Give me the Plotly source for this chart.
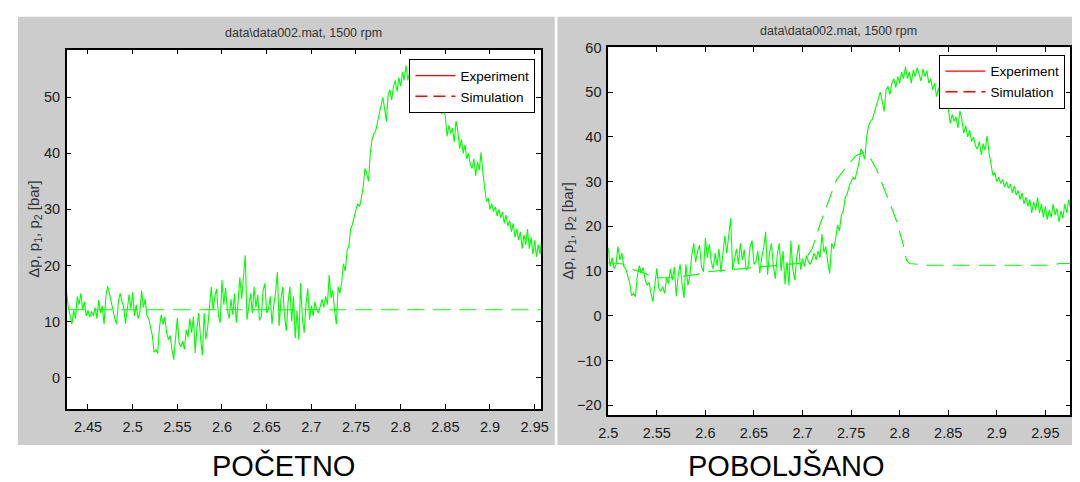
import numpy as np
import plotly.graph_objects as go

# ---------------- data ----------------
# Experiment: pressure samples, one every 0.002 s starting at t = 2.426 s
exp_t0 = 2.426
exp_dt = 0.002
exp_p = [
    # 2.426 - 2.520
    15.2, 12.5, 11.0, 9.5, 12.0, 10.5, 14.5, 13.0, 15.0, 12.2,
    13.5, 11.0, 12.0, 10.8, 11.8, 11.0, 12.5, 10.5, 13.8, 11.5,
    12.8, 9.5, 14.5, 16.3, 15.0, 13.2, 12.0, 10.5, 9.5, 13.5,
    15.0, 13.6, 12.5, 9.6, 12.0, 14.8, 12.3, 15.2, 11.0, 13.0,
    10.5, 11.5, 15.5, 12.5, 14.0, 11.0, 10.5, 9.0,
    # 2.522 - 2.582
    7.5, 4.5, 5.0, 4.3, 9.0, 11.2, 9.5, 10.8, 8.0, 6.8,
    7.5, 5.0, 3.2, 7.0, 10.6, 6.2, 5.5, 6.5, 5.0, 8.5,
    7.2, 10.5, 8.0, 10.9, 4.4, 9.0, 11.5, 7.0, 4.0, 11.5,
    6.8,
    # 2.584 - 2.730
    9.0, 13.5, 16.2, 12.0, 14.5, 15.8, 11.0, 9.8, 17.4, 13.0,
    16.0, 12.1, 10.5, 14.0, 11.2, 15.0, 9.8, 13.5, 17.9, 14.0,
    18.5, 21.8, 10.3, 13.0, 15.0, 11.5, 16.2, 12.5, 14.8, 10.2,
    10.9, 15.5, 16.8, 11.5, 12.1, 14.5, 9.5, 13.0, 15.2, 18.8,
    9.2, 14.0, 16.2, 11.0, 8.3, 13.5, 16.2, 10.0, 14.5, 7.0,
    12.0, 6.8, 16.8, 10.5, 8.0, 13.0, 15.9, 10.3, 12.8, 11.0,
    13.5, 12.1, 11.5, 12.7, 14.0, 12.5, 14.5, 13.0, 18.3, 14.2,
    15.5, 12.0, 9.5, 16.2,
    # 2.732 - 2.806
    15.0, 17.0, 20.3, 19.0, 22.6, 23.5, 26.5, 27.3, 29.0, 30.0,
    31.0, 30.5, 32.0, 34.0, 37.3, 36.5, 35.0, 40.0, 42.5, 43.5,
    44.0, 45.5, 47.0, 48.5, 50.0, 48.0, 45.7, 50.5, 51.3, 49.5,
    52.0, 53.0, 51.0, 53.5, 52.0, 54.5, 53.0, 55.7,
    # 2.808 - 2.850
    53.0, 54.5, 52.0, 55.0, 53.5, 55.5, 54.0, 52.5, 55.2, 53.5,
    54.8, 52.0, 53.0, 50.5, 52.0, 49.0, 51.0, 48.0, 49.5, 47.0,
    48.0, 46.6,
    # 2.852 - 2.976
    43.0, 45.0, 43.5, 44.5, 42.0, 45.8, 44.0, 40.8, 42.5, 40.0,
    41.5, 39.0, 40.0, 38.0, 37.3, 39.0, 36.0, 38.5, 37.0, 40.2,
    36.5, 33.7, 31.4, 32.0, 30.0, 31.0, 29.6, 30.5, 28.8, 30.0,
    28.5, 29.5, 27.5, 29.0, 27.0, 28.0, 26.0, 27.5, 25.0, 26.5,
    24.5, 26.0, 23.0, 25.5, 23.7, 26.5, 23.0, 25.0, 22.0, 24.5,
    21.5, 23.7, 22.0, 25.0, 22.5, 24.0, 21.0, 23.5, 21.8, 25.0,
    23.0, 26.0, 24.0,
]
exp_t = [round(exp_t0 + exp_dt * i, 4) for i in range(len(exp_p))]

# Simulation, initial model (left panel)
sim_initial_t = [2.40, 2.98]
sim_initial_p = [12.1, 12.1]

# Simulation, improved model (right panel)
sim_improved_t = [2.500, 2.505, 2.515, 2.520, 2.530, 2.540, 2.545, 2.565, 2.575,
                  2.590, 2.600, 2.610, 2.620, 2.640, 2.656, 2.673, 2.685, 2.700,
                  2.710, 2.717, 2.728, 2.735, 2.745, 2.755, 2.7625, 2.768, 2.7765,
                  2.787, 2.796, 2.803, 2.807, 2.810, 2.825, 2.830, 2.955, 2.965, 2.976]
sim_improved_p = [11.8, 11.8, 11.6, 10.8, 10.0, 9.3, 8.5, 8.5, 8.8,
                  9.2, 9.8, 10.0, 10.3, 10.6, 11.0, 11.3, 11.5, 11.8,
                  15.0, 19.8, 26.4, 30.4, 33.3, 35.8, 36.5, 36.0, 32.6,
                  26.8, 21.7, 16.5, 12.5, 11.7, 11.5, 11.3, 11.3, 11.7, 11.7]

panel_title = "data\\data002.mat, 1500 rpm"
y_label = "Δp, p<sub>1</sub>, p<sub>2</sub> [bar]"
captions = ["POČETNO", "POBOLJŠANO"]
legend_names = ["Experiment", "Simulation"]

left_xtick_vals = [2.45, 2.5, 2.55, 2.6, 2.65, 2.7, 2.75, 2.8, 2.85, 2.9, 2.95]
left_xtick_text = ["2.45", "2.5", "2.55", "2.6", "2.65", "2.7", "2.75", "2.8", "2.85", "2.9", "2.95"]
left_ytick_vals = [0, 10, 20, 30, 40, 50]
right_xtick_vals = [2.5, 2.55, 2.6, 2.65, 2.7, 2.75, 2.8, 2.85, 2.9, 2.95]
right_xtick_text = ["2.5", "2.55", "2.6", "2.65", "2.7", "2.75", "2.8", "2.85", "2.9", "2.95"]
right_ytick_vals = [-20, -10, 0, 10, 20, 30, 40, 50, 60]

# ---------------- figure ----------------
W, H = 1080, 482
GREEN = "#00FF00"
RED = "#FF0000"
GRAY = "#CCCCCC"
TICKFONT = dict(family="Liberation Sans, Arial, sans-serif", size=14.5, color="#1a1a1a")
LEGFONT = dict(family="Liberation Sans, Arial, sans-serif", size=13.5, color="#000000")


def px(x):
    return x / W


def py(y):
    return (H - y) / H


fig = go.Figure()

# left panel
fig.add_trace(go.Scatter(x=exp_t, y=exp_p, mode="lines", line=dict(color=GREEN, width=1.1),
                         showlegend=False, xaxis="x", yaxis="y", hoverinfo="skip"))
fig.add_trace(go.Scatter(x=sim_initial_t, y=sim_initial_p, mode="lines",
                         line=dict(color=GREEN, width=1.1, dash="17px,9px"),
                         showlegend=False, xaxis="x", yaxis="y", hoverinfo="skip"))
# right panel
fig.add_trace(go.Scatter(x=exp_t, y=exp_p, mode="lines", line=dict(color=GREEN, width=1.1),
                         showlegend=False, xaxis="x2", yaxis="y2", hoverinfo="skip"))
fig.add_trace(go.Scatter(x=sim_improved_t, y=sim_improved_p, mode="lines",
                         line=dict(color=GREEN, width=1.1, dash="17px,9px"),
                         showlegend=False, xaxis="x2", yaxis="y2", hoverinfo="skip"))

# legend entries (red in the original figure)
for leg, xa, ya in [("legend", "x", "y"), ("legend2", "x2", "y2")]:
    fig.add_trace(go.Scatter(x=[None], y=[None], mode="lines", name=legend_names[0],
                             line=dict(color=RED, width=1.3), legend=leg, xaxis=xa, yaxis=ya))
    fig.add_trace(go.Scatter(x=[None], y=[None], mode="lines", name=legend_names[1],
                             line=dict(color=RED, width=1.3, dash="12px,6px"), legend=leg, xaxis=xa, yaxis=ya))

axis_common = dict(showgrid=False, zeroline=False, showline=True, linecolor="#000000", linewidth=1.5,
                   mirror="ticks", ticks="inside", ticklen=5, tickwidth=1, tickcolor="#000000",
                   tickfont=TICKFONT, tickmode="array")

fig.update_layout(
    width=W, height=H,
    margin=dict(l=0, r=0, t=0, b=0),
    paper_bgcolor="#FFFFFF", plot_bgcolor="#FFFFFF",
    xaxis=dict(domain=[px(57.7), px(540)], range=[2.4262, 2.9571], anchor="y",
               tickvals=left_xtick_vals, ticktext=left_xtick_text, ticklabelstandoff=4, **axis_common),
    yaxis=dict(domain=[py(407.7), py(42.3)], range=[-5.6, 58.5], anchor="x",
               tickvals=left_ytick_vals, ticklabelstandoff=2, **axis_common),
    xaxis2=dict(domain=[px(608.3), px(1078.3)], range=[2.4999, 2.9757], anchor="y2",
                tickvals=right_xtick_vals, ticktext=right_xtick_text, ticklabelstandoff=4, **axis_common),
    yaxis2=dict(domain=[py(414), py(40)], range=[-22.2, 60.02], anchor="x2",
                tickvals=right_ytick_vals, ticklabelstandoff=2, **axis_common),
    legend=dict(x=px(534.3), y=py(52.3), xanchor="right", yanchor="top", bgcolor="#FFFFFF",
                bordercolor="#000000", borderwidth=1, font=LEGFONT, itemwidth=40, tracegroupgap=0),
    legend2=dict(x=px(1073.3), y=py(47.7), xanchor="right", yanchor="top", bgcolor="#FFFFFF",
                 bordercolor="#000000", borderwidth=1, font=LEGFONT, itemwidth=40, tracegroupgap=0),
    showlegend=True,
)

# gray figure frames and white axes areas
fig.add_shape(type="rect", xref="paper", yref="paper", x0=px(8), x1=px(554), y0=py(444.3), y1=py(9),
              fillcolor=GRAY, line=dict(width=0), layer="below")
fig.add_shape(type="rect", xref="paper", yref="paper", x0=px(556.7), x1=1.0, y0=py(444.3), y1=py(9),
              fillcolor=GRAY, line=dict(width=0), layer="below")
for xr, yr in [("x domain", "y domain"), ("x2 domain", "y2 domain")]:
    fig.add_shape(type="rect", xref=xr, yref=yr, x0=0, x1=1, y0=0, y1=1,
                  fillcolor="#FFFFFF", line=dict(width=0), layer="below")

TITLEFONT = dict(family="Liberation Sans, Arial, sans-serif", size=12.5, color="#333333")
LABELFONT = dict(family="Liberation Sans, Arial, sans-serif", size=15, color="#333333")
CAPFONT = dict(family="Liberation Sans, Arial, sans-serif", size=29, color="#000000")

fig.add_annotation(x=px(298.9), y=py(25), xref="paper", yref="paper", text=panel_title,
                   showarrow=False, font=TITLEFONT, xanchor="center", yanchor="middle")
fig.add_annotation(x=px(843), y=py(23), xref="paper", yref="paper", text=panel_title,
                   showarrow=False, font=TITLEFONT, xanchor="center", yanchor="middle")
fig.add_annotation(x=px(25), y=py(225), xref="paper", yref="paper", text=y_label, textangle=-90,
                   showarrow=False, font=LABELFONT, xanchor="center", yanchor="middle")
fig.add_annotation(x=px(568), y=py(227), xref="paper", yref="paper", text=y_label, textangle=-90,
                   showarrow=False, font=LABELFONT, xanchor="center", yanchor="middle")
fig.add_annotation(x=px(278.6), y=py(465), xref="paper", yref="paper", text=captions[0],
                   showarrow=False, font=CAPFONT, xanchor="center", yanchor="middle")
fig.add_annotation(x=px(789.5), y=py(465), xref="paper", yref="paper", text=captions[1],
                   showarrow=False, font=CAPFONT, xanchor="center", yanchor="middle")

# The page body normally has an 8px margin; remove it right away so the figure sits at the window origin.
body_css = "document.body.style.margin='0px';document.body.style.padding='0px';document.body.style.overflow='hidden';"
fig.write_html(
    "out.html",
    config={"displayModeBar": False, "responsive": False},
    post_script="});" + body_css + "(function(){",
)
